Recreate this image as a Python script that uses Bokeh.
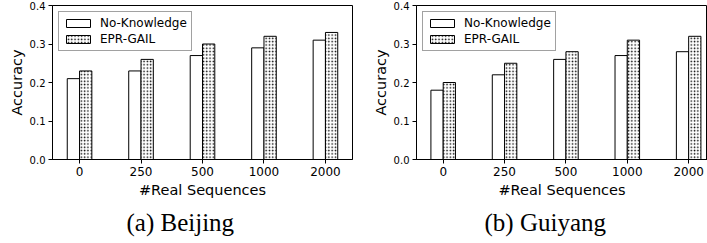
import numpy as np
from bokeh.plotting import figure
from bokeh.models import FixedTicker, NumeralTickFormatter, Title, Range1d
from bokeh.layouts import row
from bokeh.embed import file_html
from bokeh.resources import INLINE

categories = ["0", "250", "500", "1000", "2000"]
beijing_no_knowledge = [0.21, 0.23, 0.27, 0.29, 0.31]
beijing_epr_gail = [0.23, 0.26, 0.30, 0.32, 0.33]
guiyang_no_knowledge = [0.18, 0.22, 0.26, 0.27, 0.28]
guiyang_epr_gail = [0.20, 0.25, 0.28, 0.31, 0.32]
y_ticks = [0.0, 0.1, 0.2, 0.3, 0.4]
series_names = ["No-Knowledge", "EPR-GAIL"]
x_label = "#Real Sequences"
y_label = "Accuracy"
captions = ["(a) Beijing", "(b) Guiyang"]

SANS = "DejaVu Sans"
BAR_W = 0.2
HEIGHT = 243


def make_panel(nk, epr, caption, width, border_left, border_right, x_start, x_end, cap_offset):
    idx = np.arange(len(categories))
    p = figure(width=width, height=HEIGHT, x_range=Range1d(x_start, x_end), y_range=Range1d(0, 0.4),
               output_backend="svg", toolbar_location=None,
               min_border_left=border_left, min_border_right=border_right,
               min_border_top=5, min_border_bottom=84)
    p.grid.visible = False
    p.outline_line_color = "black"
    p.outline_line_width = 1
    p.outline_line_alpha = 1

    p.vbar(x=idx - BAR_W / 2, width=BAR_W, top=nk, bottom=0,
           fill_color="white", line_color="black", line_width=1,
           legend_label=series_names[0])
    p.vbar(x=idx + BAR_W / 2, width=BAR_W, top=epr, bottom=0,
           fill_color="white", line_color="black", line_width=1,
           hatch_pattern="dot", hatch_color="black", hatch_scale=3.3, hatch_weight=0.8,
           legend_label=series_names[1])

    xa = p.xaxis[0]
    xa.ticker = FixedTicker(ticks=list(idx))
    xa.major_label_overrides = {int(i): c for i, c in zip(idx, categories)}
    xa.axis_label = x_label
    ya = p.yaxis[0]
    ya.ticker = FixedTicker(ticks=y_ticks)
    ya.formatter = NumeralTickFormatter(format="0.0")
    ya.axis_label = y_label

    for ax in (xa, ya):
        ax.axis_line_color = "black"
        ax.major_tick_line_color = "black"
        ax.major_tick_in = 0
        ax.major_tick_out = 4
        ax.minor_tick_line_color = None
        ax.major_label_text_color = "black"
        ax.major_label_text_font = SANS
        ax.axis_label_text_color = "black"
        ax.axis_label_text_font = SANS
        ax.axis_label_text_font_style = "normal"
        ax.axis_label_text_font_size = "14.5px"
        ax.major_label_standoff = 3
        ax.axis_label_standoff = 3
    xa.major_label_text_font_size = "12px"
    ya.major_label_text_font_size = "10px"
    ya.axis_label_standoff = 2

    lg = p.legend[0]
    lg.location = "top_left"
    lg.margin = 6
    lg.padding = 4
    lg.spacing = 2
    lg.glyph_width = 30
    lg.glyph_height = 10
    lg.label_height = 14
    lg.label_standoff = 7
    lg.label_text_font = SANS
    lg.label_text_font_size = "12px"
    lg.label_text_color = "black"
    lg.border_line_color = "#444444"
    lg.border_line_width = 1
    lg.background_fill_color = "white"
    lg.background_fill_alpha = 1

    t = Title(text=caption, align="left", offset=cap_offset,
              text_font="Liberation Serif", text_font_size="25px",
              text_font_style="normal", text_color="black", standoff=13)
    p.add_layout(t, "below")
    return p


p1 = make_panel(beijing_no_knowledge, beijing_epr_gail, captions[0], 369, 52, 17, -0.44, 4.44, 74)
p2 = make_panel(guiyang_no_knowledge, guiyang_epr_gail, captions[1], 338, 44, 0, -0.435, 4.307, 68)

layout = row(p1, p2)
open("out.html", "w").write(file_html(layout, INLINE))
